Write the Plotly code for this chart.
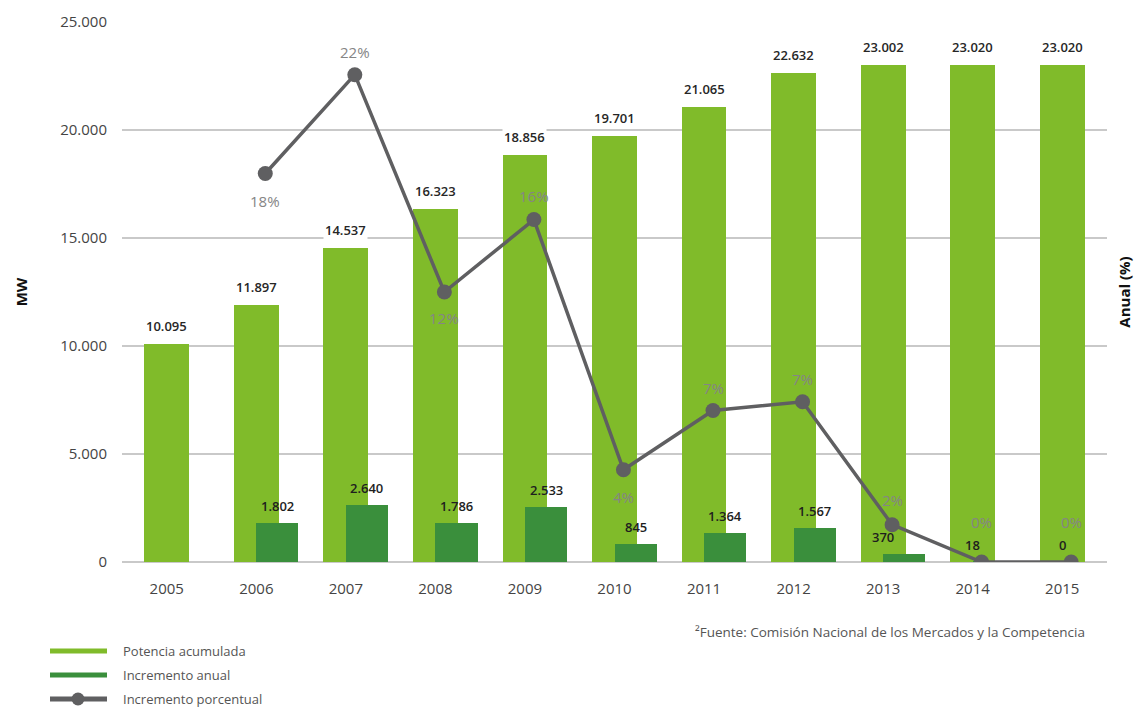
import plotly.graph_objects as go

# ---- data ----
years = ["2005", "2006", "2007", "2008", "2009", "2010",
         "2011", "2012", "2013", "2014", "2015"]
potencia_acumulada = [10095, 11897, 14537, 16323, 18856, 19701,
                      21065, 22632, 23002, 23020, 23020]
incremento_anual = [None, 1802, 2640, 1786, 2533, 845,
                    1364, 1567, 370, 18, 0]
incremento_porcentual = [None, 17.7, 22.2, 12.3, 15.6, 4.2,
                         6.9, 7.3, 1.7, 0.0, 0.0]
mw_ticks = [0, 5000, 10000, 15000, 20000, 25000]

legend_labels = ["Potencia acumulada", "Incremento anual", "Incremento porcentual"]
source_note = "\u00b2Fuente: Comisi\u00f3n Nacional de los Mercados y la Competencia"

# ---- style ----
W, H = 1141, 709
M_L, M_R, M_T, M_B = 122, 34, 22, 147
PLOT_W = W - M_L - M_R
PLOT_H = H - M_T - M_B

LIGHT_GREEN = "#80BB2A"
DARK_GREEN = "#3A8F3C"
LINE_GREY = "#5F5F61"
GRID_GREY = "#C9C9C9"
TEXT_GREY = "#555555"
PCT_GREY = "#858585"
FONT = "Open Sans"

LIGHT_OFFSET, LIGHT_WIDTH = -0.25, 0.50
DARK_OFFSET, DARK_WIDTH = 0.0, 0.47
LINE_SHIFT = 0.1            # line drawn slightly right of the category centre
SMALL_VALUE = 500           # tiny increments are labelled over the category centre
BAR_LABEL_SHIFT = 18
DARK_LABEL_SHIFT = 17
# label placement above (+) / below (-) each percentage point, in px
PCT_LABEL_SHIFT = [None, -28, 23, -26, 24, -27, 23, 23, 25, 40, 40]


def fmt_num(v):
    return f"{v:,}".replace(",", ".")


def px_x(px):
    return (px - M_L) / PLOT_W


def px_y(py):
    return (H - M_B - py) / PLOT_H


fig = go.Figure()

fig.add_trace(go.Bar(
    x=years, y=potencia_acumulada, name=legend_labels[0],
    marker=dict(color=LIGHT_GREEN, line=dict(width=0)),
    offset=LIGHT_OFFSET, width=LIGHT_WIDTH, showlegend=False,
))
fig.add_trace(go.Bar(
    x=years, y=incremento_anual, name=legend_labels[1],
    marker=dict(color=DARK_GREEN, line=dict(width=0)),
    offset=DARK_OFFSET, width=DARK_WIDTH, showlegend=False,
))
fig.add_trace(go.Scatter(
    x=years, y=incremento_porcentual, name=legend_labels[2],
    xaxis="x2", yaxis="y2", mode="lines+markers",
    line=dict(color=LINE_GREY, width=3.5),
    marker=dict(color=LINE_GREY, size=15),
    connectgaps=False, showlegend=False,
))

annotations = []

# cumulative capacity labels
for i, v in enumerate(potencia_acumulada):
    annotations.append(dict(
        x=i, y=v, xref="x", yref="y", text=fmt_num(v), showarrow=False,
        yanchor="middle", yshift=BAR_LABEL_SHIFT, bgcolor="white",
        font=dict(family=FONT, size=13, color="#262626", weight=600),
    ))

# annual increment labels
for i, v in enumerate(incremento_anual):
    if v is None:
        continue
    xpos = i + DARK_OFFSET + DARK_WIDTH / 2 if v >= SMALL_VALUE else i
    annotations.append(dict(
        x=xpos, y=v, xref="x", yref="y", text=fmt_num(v), showarrow=False,
        yanchor="middle", yshift=DARK_LABEL_SHIFT,
        font=dict(family=FONT, size=13, color="#1E1E1E", weight=600),
    ))

# percentage labels
for i, v in enumerate(incremento_porcentual):
    if v is None:
        continue
    annotations.append(dict(
        x=i, y=v, xref="x2", yref="y2", text=f"{v:.0f}%", showarrow=False,
        yanchor="middle", yshift=PCT_LABEL_SHIFT[i],
        font=dict(family=FONT, size=15, color=PCT_GREY),
    ))

# source note
annotations.append(dict(
    x=px_x(1087), y=px_y(632), xref="paper", yref="paper",
    text=source_note, showarrow=False, xanchor="right", yanchor="middle",
    font=dict(family=FONT, size=13.5, color=TEXT_GREY),
))

# hand-drawn legend
shapes = []
legend_rows = [651, 675, 699]
legend_colors = [LIGHT_GREEN, DARK_GREEN, LINE_GREY]
for label, row, col in zip(legend_labels, legend_rows, legend_colors):
    shapes.append(dict(
        type="line", xref="paper", yref="paper",
        x0=px_x(50), x1=px_x(107), y0=px_y(row), y1=px_y(row),
        line=dict(color=col, width=5),
    ))
    annotations.append(dict(
        x=px_x(121), y=px_y(row), xref="paper", yref="paper",
        text=label, showarrow=False, xanchor="left", yanchor="middle",
        font=dict(family=FONT, size=13, color=TEXT_GREY),
    ))
shapes.append(dict(
    type="circle", xref="paper", yref="paper",
    xsizemode="pixel", ysizemode="pixel",
    xanchor=px_x(78), yanchor=px_y(legend_rows[2]),
    x0=-6.5, x1=6.5, y0=-6.5, y1=6.5,
    fillcolor=LINE_GREY, line=dict(width=0),
))

fig.update_layout(
    width=W, height=H,
    margin=dict(l=M_L, r=M_R, t=M_T, b=M_B, pad=0),
    paper_bgcolor="white", plot_bgcolor="white",
    barmode="overlay", bargap=0,
    separators=",.",
    font=dict(family=FONT, color=TEXT_GREY),
    showlegend=False,
    xaxis=dict(
        type="category", range=[-0.5, 10.5], showgrid=False, zeroline=False,
        showline=False, ticks="", ticklabelstandoff=16,
        tickfont=dict(family=FONT, size=15, color="#444444"),
    ),
    xaxis2=dict(
        type="category", overlaying="x", visible=False,
        range=[-0.5 - LINE_SHIFT, 10.5 - LINE_SHIFT],
    ),
    yaxis=dict(
        range=[0, 25000], tickvals=mw_ticks, tickformat=",d",
        showgrid=True, gridcolor=GRID_GREY, gridwidth=2,
        zeroline=True, zerolinecolor=GRID_GREY, zerolinewidth=2,
        showline=False, ticks="", ticklabelstandoff=14,
        tickfont=dict(family=FONT, size=15, color="#444444"),
        title=dict(text="<b>MW</b>", standoff=28,
                   font=dict(family=FONT, size=15, color="#111111")),
    ),
    yaxis2=dict(
        range=[0, 24.6], overlaying="y", side="right", anchor="x",
        showgrid=False, zeroline=False, showticklabels=False, ticks="",
        title=dict(text="<b>Anual (%)</b>", standoff=12,
                   font=dict(family=FONT, size=15, color="#111111")),
    ),
    annotations=annotations,
    shapes=shapes,
)

fig.write_html("out.html")
